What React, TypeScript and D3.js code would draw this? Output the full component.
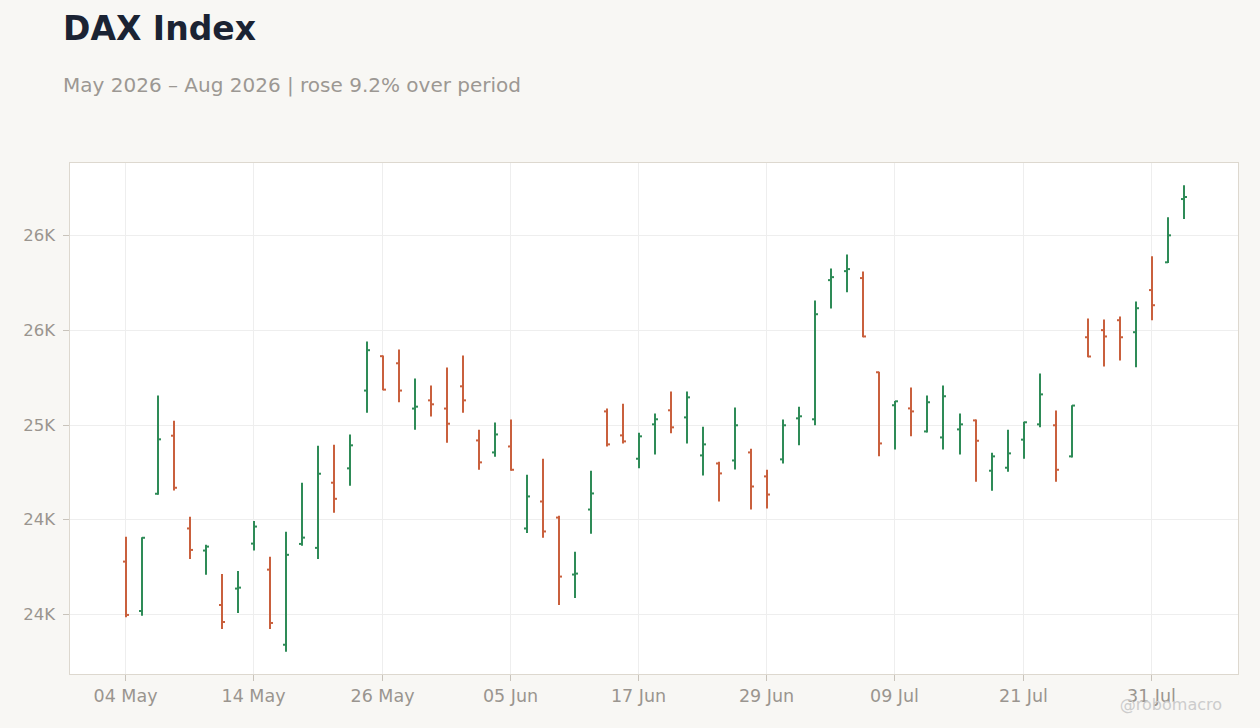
import React, { useMemo } from 'react';
import * as d3 from 'd3';

// daily OHLC, one entry per weekday from 04 May 2026 to 04 Aug 2026
const START_DATE = '2026-05-04';
const END_DATE = '2026-08-04';

const OPEN = [
  24132, 23819, 24562, 24930, 24342, 24202, 23857, 23961, 24246, 24081,
  23605, 24244, 24219, 24632, 24723, 25216, 25434, 25389, 25102, 25154,
  25102, 25243, 24900, 24824, 24862, 24342, 24513, 24411, 24050, 24462,
  25084, 24932, 24784, 25002, 25091, 25046, 24805, 24754, 24773, 24824,
  24672, 24780, 25040, 25034, 25916, 25973, 25929, 25332, 25123, 25103,
  24957, 24919, 24970, 25027, 24708, 24727, 24905, 25002, 24996, 24799,
  25554, 25599, 25662, 25586, 25853, 26029, 26430,
];
const HIGH = [
  24289, 24287, 25184, 25025, 24416, 24238, 24054, 24073, 24390, 24162,
  24321, 24632, 24867, 24873, 24937, 25527, 25438, 25476, 25292, 25248,
  25362, 25438, 24968, 25013, 25032, 24683, 24784, 24422, 24194, 24708,
  25102, 25133, 24949, 25070, 25210, 25210, 24987, 24765, 25108, 24848,
  24714, 25032, 25114, 25787, 25990, 26079, 25971, 25335, 25150, 25235,
  25184, 25248, 25070, 25032, 24822, 24968, 25019, 25324, 25089, 25123,
  25673, 25667, 25686, 25781, 26067, 26314, 26517,
];
const LOW = [
  23779, 23789, 24555, 24583, 24149, 24048, 23705, 23806, 24202, 23705,
  23561, 24232, 24149, 24441, 24613, 25076, 25218, 25142, 24968, 25051,
  24886, 25076, 24714, 24797, 24708, 24314, 24283, 23857, 23902, 24308,
  24862, 24881, 24723, 24811, 24945, 24881, 24678, 24513, 24716, 24462,
  24469, 24754, 24869, 24996, 25736, 25840, 25554, 24799, 24843, 24926,
  24951, 24843, 24811, 24638, 24581, 24702, 24784, 24983, 24638, 24792,
  25427, 25368, 25406, 25364, 25662, 26025, 26303,
];
const CLOSE = [
  23794, 24283, 24907, 24600, 24206, 24227, 23749, 23967, 24354, 23743,
  24175, 24284, 24689, 24530, 24869, 25472, 25222, 25216, 25114, 25129,
  25006, 25154, 24761, 24938, 24714, 24545, 24323, 24037, 24056, 24564,
  24875, 24894, 24926, 25034, 24983, 25173, 24875, 24691, 24996, 24608,
  24557, 24996, 25053, 25700, 25935, 25986, 25559, 24881, 25148, 25084,
  25142, 25180, 25002, 24898, 24799, 24818, 25015, 25192, 24714, 25121,
  25432, 25559, 25554, 25738, 25757, 26200, 26443,
];

const Y_TICKS = [23800, 24400, 25000, 25600, 26200];
const X_TICK_EVERY = 8;

const TITLE = 'DAX Index';
const SUBTITLE = 'May 2026 – Aug 2026 | rose 9.2% over period';
const CREDIT = '@robomacro';

const W = 1260;
const H = 728;
const margin = { top: 162, right: 21, bottom: 53, left: 69 };

const UP = '#2e8b57';
const DOWN = '#c9603d';
const FONT = '"DejaVu Sans", sans-serif';

const App: React.FC = () => {
  const days = useMemo(() => {
    const parse = d3.timeParse('%Y-%m-%d');
    const all = d3.timeDay.range(parse(START_DATE)!, d3.timeDay.offset(parse(END_DATE)!, 1));
    return all.filter((d) => d.getDay() !== 0 && d.getDay() !== 6);
  }, []);

  const data = days.map((date, i) => ({
    i,
    date,
    open: OPEN[i],
    high: HIGH[i],
    low: LOW[i],
    close: CLOSE[i],
  }));

  const x0 = margin.left;
  const x1 = W - margin.right;
  const y0 = margin.top;
  const y1 = H - margin.bottom;

  const x = d3
    .scalePoint<number>()
    .domain(data.map((d) => d.i))
    .range([x0, x1])
    .padding(3.5);

  // 5% headroom above and below the price range
  const lo = d3.min(data, (d) => d.low)!;
  const hi = d3.max(data, (d) => d.high)!;
  const pad = (hi - lo) * 0.05;
  const y = d3.scaleLinear().domain([lo - pad, hi + pad]).range([y1, y0]);

  const fmtY = (v: number) => d3.format('.2s')(v).replace('k', 'K');
  const fmtX = d3.timeFormat('%d %b');

  const xTicks = data.filter((d) => d.i % X_TICK_EVERY === 0);
  const px = (i: number) => Math.round(x(i)!);

  return (
    <svg
      width={W}
      height={H}
      style={{ position: 'absolute', left: 0, top: 0, background: '#f8f7f4' }}
      fontFamily={FONT}
    >
      <rect width={W} height={H} fill="#f8f7f4" />

      <text x={63} y={40} fontSize={33} fontWeight="bold" fill="#1b2333">
        {TITLE}
      </text>
      <text x={63} y={92} fontSize={20} fill="#9c9893">
        {SUBTITLE}
      </text>

      {/* plot area */}
      <rect x={x0} y={y0} width={x1 - x0} height={y1 - y0} fill="#ffffff" />

      {/* grid */}
      {Y_TICKS.map((t) => (
        <line
          key={`gy${t}`}
          x1={x0}
          x2={x1}
          y1={Math.round(y(t)) + 0.5}
          y2={Math.round(y(t)) + 0.5}
          stroke="#eeeeee"
        />
      ))}
      {xTicks.map((d) => (
        <line
          key={`gx${d.i}`}
          x1={px(d.i) + 0.5}
          x2={px(d.i) + 0.5}
          y1={y0}
          y2={y1}
          stroke="#eeeeee"
        />
      ))}

      <rect
        x={x0 + 0.5}
        y={y0 + 0.5}
        width={x1 - x0 - 1}
        height={y1 - y0 - 1}
        fill="none"
        stroke="#ddd8cf"
      />

      {/* y axis */}
      {Y_TICKS.map((t) => (
        <g key={`ty${t}`} transform={`translate(0,${Math.round(y(t)) + 0.5})`}>
          <line x1={x0 - 6} x2={x0} stroke="#c8c3bb" />
          <text x={x0 - 14} dy="0.35em" textAnchor="end" fontSize={16.5} fill="#9a958f">
            {fmtY(t)}
          </text>
        </g>
      ))}

      {/* x axis */}
      {xTicks.map((d) => (
        <g key={`tx${d.i}`} transform={`translate(${px(d.i) + 0.5},${y1})`}>
          <line y1={0} y2={6} stroke="#c8c3bb" />
          <text y={27} textAnchor="middle" fontSize={17.5} fill="#9a958f">
            {fmtX(d.date)}
          </text>
        </g>
      ))}

      {/* OHLC bars: high-low stem, open tick left, close tick right */}
      {data.map((d) => {
        const cx = px(d.i) + 1;
        const c = d.close >= d.open ? UP : DOWN;
        return (
          <g key={d.i} stroke={c} strokeWidth={2}>
            <line x1={cx} x2={cx} y1={y(d.high)} y2={y(d.low)} />
            <line x1={cx - 3} x2={cx} y1={y(d.open)} y2={y(d.open)} />
            <line x1={cx} x2={cx + 3} y1={y(d.close)} y2={y(d.close)} />
          </g>
        );
      })}

      <text x={1222} y={710} textAnchor="end" fontSize={16} fill="#cccccc">
        {CREDIT}
      </text>
    </svg>
  );
};

export default App;
